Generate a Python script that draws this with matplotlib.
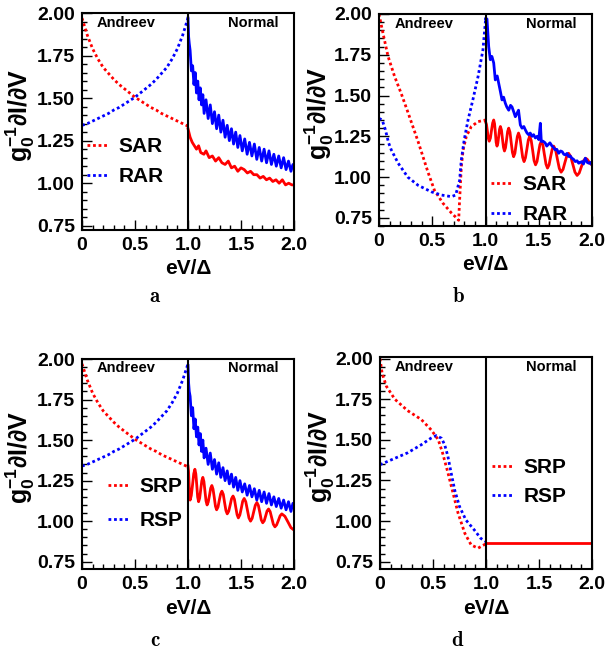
import matplotlib
matplotlib.use("Agg")
import matplotlib.pyplot as plt
from matplotlib.ticker import MultipleLocator, FixedLocator

plt.rcParams['font.family'] = ['Liberation Sans', 'DejaVu Sans']
plt.rcParams['font.weight'] = 'bold'
plt.rcParams['mathtext.fontset'] = 'custom'
plt.rcParams['mathtext.bf'] = 'Liberation Sans:bold'
plt.rcParams['mathtext.rm'] = 'Liberation Sans:bold'
plt.rcParams['mathtext.it'] = 'Liberation Sans:bold'
plt.rcParams['mathtext.default'] = 'bf'

# ---------------------------------------------------------------------------
# data (x = eV/Delta, y = g0^-1 dI/dV)
# ---------------------------------------------------------------------------
# panels a and c, Andreev region (dotted)
x_andreev = [0.00, 0.05, 0.10, 0.15, 0.20, 0.25, 0.30, 0.35, 0.40, 0.45, 0.50,
             0.55, 0.60, 0.65, 0.70, 0.75, 0.80, 0.85, 0.90, 0.95, 1.00]
red_ac_andreev = [1.97, 1.87, 1.79, 1.73, 1.68, 1.645, 1.61, 1.58, 1.555, 1.53, 1.505,
                  1.485, 1.465, 1.445, 1.43, 1.41, 1.395, 1.38, 1.365, 1.35, 1.335]
blue_ac_andreev = [1.34, 1.35, 1.365, 1.38, 1.395, 1.41, 1.43, 1.445, 1.465, 1.485, 1.505,
                   1.53, 1.555, 1.58, 1.61, 1.645, 1.68, 1.73, 1.79, 1.87, 1.97]

# panel a, normal region (solid)
x_red_a = [1.00, 1.02, 1.04, 1.06, 1.08, 1.10, 1.12, 1.15, 1.17, 1.20, 1.23, 1.26, 1.29,
           1.32, 1.35, 1.38, 1.41, 1.44, 1.47, 1.50, 1.53, 1.56, 1.59, 1.62, 1.65, 1.68,
           1.71, 1.74, 1.77, 1.80, 1.83, 1.86, 1.89, 1.92, 1.95, 1.98, 2.00]
y_red_a = [1.32, 1.27, 1.24, 1.22, 1.20, 1.22, 1.18, 1.17, 1.19, 1.15, 1.16, 1.13, 1.15,
           1.12, 1.11, 1.13, 1.09, 1.10, 1.07, 1.09, 1.08, 1.06, 1.07, 1.05, 1.05, 1.03,
           1.04, 1.02, 1.03, 1.01, 1.02, 1.00, 1.02, 0.99, 1.00, 0.99, 0.99]
x_blue_a = [1.000, 1.006, 1.012, 1.020, 1.032, 1.044, 1.056, 1.068, 1.080, 1.092, 1.104,
            1.116, 1.128, 1.140, 1.152, 1.170, 1.190, 1.210, 1.230, 1.250, 1.270, 1.290,
            1.310, 1.330, 1.350, 1.370, 1.390, 1.410, 1.430, 1.450, 1.470, 1.490, 1.512,
            1.535, 1.558, 1.580, 1.603, 1.626, 1.649, 1.672, 1.695, 1.718, 1.741, 1.764,
            1.787, 1.810, 1.833, 1.856, 1.879, 1.902, 1.925, 1.948, 1.971, 1.990, 2.000]
y_blue_a = [1.97, 1.86, 1.82, 1.78, 1.66, 1.69, 1.58, 1.65, 1.53, 1.60, 1.49,
            1.56, 1.46, 1.52, 1.41, 1.49, 1.38, 1.46, 1.35, 1.42, 1.32, 1.40,
            1.30, 1.37, 1.27, 1.34, 1.25, 1.32, 1.23, 1.30, 1.21, 1.28, 1.19,
            1.26, 1.17, 1.24, 1.16, 1.23, 1.14, 1.21, 1.13, 1.20, 1.12, 1.19,
            1.11, 1.17, 1.10, 1.16, 1.09, 1.15, 1.08, 1.13, 1.07, 1.11, 1.10]

# panel b, Andreev region (dotted)
x_red_b_andreev = [0.00, 0.038, 0.085, 0.147, 0.21, 0.27, 0.366, 0.46, 0.52, 0.60, 0.68,
                   0.735, 0.748, 0.757, 0.773, 0.79, 0.82, 0.867, 0.93, 1.00]
y_red_b_andreev = [2.00, 1.88, 1.74, 1.616, 1.51, 1.40, 1.22, 1.03, 0.92, 0.84, 0.78,
                   0.745, 0.735, 0.86, 1.064, 1.167, 1.25, 1.31, 1.34, 1.35]
x_blue_b_andreev = [0.00, 0.03, 0.06, 0.09, 0.115, 0.18, 0.27, 0.366, 0.49, 0.585, 0.68,
                    0.72, 0.757, 0.773, 0.80, 0.836, 0.88, 0.93, 0.976, 1.00]
y_blue_b_andreev = [1.36, 1.35, 1.29, 1.21, 1.167, 1.085, 1.00, 0.95, 0.91, 0.89, 0.88,
                    0.89, 0.98, 1.105, 1.228, 1.35, 1.47, 1.616, 1.78, 1.96]

# panel b, normal region (solid)
x_red_b = [1.000, 1.009, 1.018, 1.026, 1.035, 1.046, 1.056, 1.067, 1.077, 1.085, 1.093,
           1.100, 1.108, 1.116, 1.124, 1.132, 1.140, 1.150, 1.159, 1.169, 1.178, 1.188,
           1.198, 1.208, 1.218, 1.230, 1.241, 1.253, 1.264, 1.276, 1.287, 1.299, 1.310,
           1.323, 1.336, 1.349, 1.362, 1.375, 1.389, 1.402, 1.415, 1.429, 1.443, 1.456,
           1.470, 1.484, 1.497, 1.511, 1.524, 1.539, 1.553, 1.568, 1.582, 1.597, 1.611,
           1.626, 1.640, 1.658, 1.675, 1.693, 1.710, 1.728, 1.745, 1.763, 1.780, 1.800,
           1.820, 1.840, 1.860, 1.880, 1.900, 1.920, 1.940, 1.955, 1.970, 1.985, 2.000]
y_red_b = [1.340, 1.323, 1.280, 1.238, 1.220, 1.239, 1.285, 1.331, 1.350, 1.327, 1.270,
           1.213, 1.190, 1.208, 1.250, 1.293, 1.310, 1.288, 1.235, 1.182, 1.160, 1.180,
           1.230, 1.280, 1.300, 1.275, 1.213, 1.151, 1.125, 1.146, 1.198, 1.249, 1.270,
           1.245, 1.183, 1.121, 1.095, 1.118, 1.173, 1.227, 1.250, 1.225, 1.163, 1.101,
           1.075, 1.096, 1.148, 1.199, 1.220, 1.196, 1.138, 1.079, 1.055, 1.075, 1.123,
           1.170, 1.190, 1.167, 1.110, 1.053, 1.030, 1.047, 1.088, 1.129, 1.146, 1.126,
           1.078, 1.030, 1.010, 1.025, 1.063, 1.100, 1.115, 1.109, 1.095, 1.081, 1.075]
x_blue_b = [1.000, 1.014, 1.030, 1.045, 1.060, 1.077, 1.092, 1.110, 1.124, 1.140, 1.155,
            1.170, 1.186, 1.200, 1.218, 1.235, 1.249, 1.265, 1.280, 1.295, 1.310, 1.327,
            1.343, 1.360, 1.374, 1.390, 1.405, 1.420, 1.437, 1.452, 1.468, 1.485, 1.500,
            1.515, 1.524, 1.540, 1.560, 1.575, 1.590, 1.605, 1.625, 1.640, 1.655, 1.670,
            1.687, 1.705, 1.720, 1.735, 1.750, 1.765, 1.780, 1.795, 1.810, 1.825, 1.843,
            1.860, 1.875, 1.890, 1.906, 1.920, 1.937, 1.955, 1.970, 1.985, 2.000]
y_blue_b = [1.97, 1.97, 1.80, 1.72, 1.74, 1.70, 1.596, 1.62, 1.575, 1.524, 1.473,
            1.49, 1.453, 1.43, 1.41, 1.44, 1.43, 1.40, 1.37, 1.39, 1.41, 1.32,
            1.30, 1.31, 1.29, 1.27, 1.26, 1.27, 1.25, 1.26, 1.24, 1.25, 1.23,
            1.33, 1.218, 1.22, 1.21, 1.19, 1.20, 1.21, 1.19, 1.18, 1.167, 1.17,
            1.146, 1.16, 1.156, 1.14, 1.136, 1.145, 1.126, 1.13, 1.116, 1.11, 1.095,
            1.10, 1.085, 1.09, 1.095, 1.08, 1.116, 1.09, 1.085, 1.09, 1.075]

# panel c, normal region (solid)
x_red_c = [1.000, 1.005, 1.010, 1.015, 1.020, 1.031, 1.043, 1.054, 1.065, 1.074, 1.083,
           1.091, 1.100, 1.110, 1.120, 1.130, 1.140, 1.150, 1.160, 1.170, 1.180, 1.191,
           1.203, 1.214, 1.225, 1.236, 1.248, 1.259, 1.270, 1.283, 1.295, 1.308, 1.320,
           1.333, 1.345, 1.358, 1.370, 1.384, 1.398, 1.411, 1.425, 1.438, 1.450, 1.463,
           1.475, 1.489, 1.503, 1.516, 1.530, 1.545, 1.560, 1.575, 1.590, 1.605, 1.620,
           1.635, 1.650, 1.664, 1.678, 1.691, 1.705, 1.719, 1.733, 1.746, 1.760, 1.775,
           1.790, 1.805, 1.820, 1.836, 1.853, 1.869, 1.885, 1.914, 1.943, 1.971, 2.000]
y_red_c = [1.340, 1.309, 1.235, 1.161, 1.130, 1.158, 1.225, 1.292, 1.320, 1.291, 1.220,
           1.149, 1.120, 1.142, 1.195, 1.248, 1.270, 1.245, 1.185, 1.125, 1.100, 1.118,
           1.160, 1.203, 1.220, 1.198, 1.145, 1.092, 1.070, 1.087, 1.128, 1.168, 1.185,
           1.165, 1.115, 1.065, 1.045, 1.061, 1.100, 1.139, 1.155, 1.135, 1.088, 1.040,
           1.020, 1.038, 1.080, 1.123, 1.140, 1.120, 1.070, 1.020, 1.000, 1.017, 1.058,
           1.098, 1.115, 1.097, 1.053, 1.008, 0.990, 1.002, 1.033, 1.063, 1.075, 1.059,
           1.020, 0.981, 0.965, 0.977, 1.005, 1.033, 1.045, 1.030, 0.995, 0.960, 0.945]
x_blue_c = [1.000, 1.006, 1.012, 1.020, 1.032, 1.044, 1.056, 1.068, 1.080, 1.092, 1.104,
            1.116, 1.128, 1.140, 1.152, 1.170, 1.190, 1.210, 1.230, 1.250, 1.270, 1.290,
            1.310, 1.330, 1.350, 1.370, 1.390, 1.410, 1.430, 1.450, 1.470, 1.490, 1.512,
            1.535, 1.558, 1.580, 1.603, 1.626, 1.649, 1.672, 1.695, 1.718, 1.741, 1.764,
            1.787, 1.810, 1.833, 1.856, 1.879, 1.902, 1.925, 1.948, 1.971, 1.990, 2.000]
y_blue_c = [1.96, 1.85, 1.80, 1.77, 1.65, 1.70, 1.57, 1.63, 1.52, 1.58, 1.47,
            1.54, 1.43, 1.50, 1.39, 1.45, 1.35, 1.42, 1.32, 1.38, 1.29, 1.36,
            1.27, 1.33, 1.25, 1.31, 1.23, 1.29, 1.21, 1.27, 1.19, 1.25, 1.18,
            1.23, 1.16, 1.22, 1.15, 1.20, 1.13, 1.19, 1.12, 1.18, 1.11, 1.17,
            1.10, 1.15, 1.09, 1.14, 1.08, 1.13, 1.07, 1.12, 1.06, 1.11, 1.11]

# panel d
x_red_d_andreev = [0.00, 0.02, 0.06, 0.14, 0.26, 0.39, 0.485, 0.55, 0.59, 0.64, 0.69,
                   0.736, 0.80, 0.86, 0.925, 0.97, 1.00]
y_red_d_andreev = [2.00, 1.91, 1.83, 1.75, 1.68, 1.625, 1.56, 1.50, 1.42, 1.30, 1.17,
                   1.05, 0.925, 0.853, 0.833, 0.85, 0.86]
x_blue_d_andreev = [0.00, 0.11, 0.26, 0.39, 0.48, 0.53, 0.58, 0.61, 0.64, 0.67, 0.705,
                    0.75, 0.81, 0.89, 0.95, 1.00]
y_blue_d_andreev = [1.347, 1.378, 1.42, 1.47, 1.51, 1.526, 1.51, 1.47, 1.40, 1.30, 1.19,
                    1.09, 1.007, 0.945, 0.894, 0.873]
x_red_d = [1.0, 2.0]
y_red_d = [0.863, 0.863]

legend_ab = ['SAR', 'RAR']
legend_cd = ['SRP', 'RSP']
panel_tags = ['a', 'b', 'c', 'd']

RED = '#ff0000'
BLUE = '#0000ff'
DOT = (0, (1, 1))

fig = plt.figure(figsize=(6.16, 6.51), dpi=100)
W, H = 616.0, 651.0


def make_axes(left, top, right, bottom):
    return fig.add_axes([left / W, 1 - bottom / H, (right - left) / W, (bottom - top) / H])


def style(ax, ymin, ymax, ylab_xy):
    ax.set_xlim(0, 2.0)
    ax.set_ylim(ymin, ymax)
    ax.xaxis.set_major_locator(FixedLocator([0, 0.5, 1.0, 1.5, 2.0]))
    ax.xaxis.set_minor_locator(MultipleLocator(0.1))
    ax.set_xticklabels(['0', '0.5', '1.0', '1.5', '2.0'])
    ax.yaxis.set_major_locator(FixedLocator([0.75, 1.0, 1.25, 1.5, 1.75, 2.0]))
    ax.yaxis.set_minor_locator(MultipleLocator(0.05))
    ax.set_yticklabels(['0.75', '1.00', '1.25', '1.50', '1.75', '2.00'])
    ax.tick_params(which='both', direction='in', top=False, right=False,
                   labelsize=14, width=1.0)
    ax.tick_params(which='major', length=7, pad=5)
    ax.tick_params(which='minor', length=3.5)
    for s in ax.spines.values():
        s.set_linewidth(1.5)
    ax.axvline(1.0, color='black', lw=1.5)
    ax.text(0.21, 0.955, 'Andreev', transform=ax.transAxes, ha='center', va='center',
            fontsize=10.5, fontweight='bold')
    ax.text(0.81, 0.955, 'Normal', transform=ax.transAxes, ha='center', va='center',
            fontsize=10.5, fontweight='bold')
    ax.set_xlabel('eV/Δ', fontsize=15, fontweight='bold', labelpad=4)
    ax.set_ylabel(r'$g_0^{-1}$∂I/∂V', fontsize=18, fontweight='bold')
    ax.yaxis.set_label_coords(*ylab_xy)


def add_legend(ax, names, x0, y0, spacing):
    ax.legend(names, loc='upper left', bbox_to_anchor=(x0, y0), frameon=False,
              handlelength=1.0, handletextpad=0.5, borderpad=0,
              borderaxespad=0, labelspacing=spacing, prop={'weight': 'bold', 'size': 15})


# a
ax_a = make_axes(82, 13, 294, 230)
ax_a.plot(x_andreev, red_ac_andreev, color=RED, lw=2, ls=DOT)
ax_a.plot(x_andreev, blue_ac_andreev, color=BLUE, lw=2, ls=DOT)
ax_a.plot(x_red_a, y_red_a, color=RED, lw=2)
ax_a.plot(x_blue_a, y_blue_a, color=BLUE, lw=2)
style(ax_a, 0.725, 2.0, (-0.212, 0.53))
add_legend(ax_a, legend_ab, 0.024, 0.428, 0.53)

# b
ax_b = make_axes(379, 14, 592, 226)
ax_b.plot(x_red_b_andreev, y_red_b_andreev, color=RED, lw=2, ls=DOT)
ax_b.plot(x_blue_b_andreev, y_blue_b_andreev, color=BLUE, lw=2, ls=DOT)
ax_b.plot(x_red_b, y_red_b, color=RED, lw=2)
ax_b.plot(x_blue_b, y_blue_b, color=BLUE, lw=2)
style(ax_b, 0.70, 2.0, (-0.20, 0.53))
add_legend(ax_b, legend_ab, 0.526, 0.241, 0.53)

# c
ax_c = make_axes(82, 359, 294, 569)
ax_c.plot(x_andreev, red_ac_andreev, color=RED, lw=2, ls=DOT)
ax_c.plot(x_andreev, blue_ac_andreev, color=BLUE, lw=2, ls=DOT)
ax_c.plot(x_red_c, y_red_c, color=RED, lw=2)
ax_c.plot(x_blue_c, y_blue_c, color=BLUE, lw=2)
style(ax_c, 0.705, 2.0, (-0.212, 0.53))
add_legend(ax_c, legend_cd, 0.123, 0.438, 0.72)

# d
ax_d = make_axes(380, 357, 592, 569)
ax_d.plot(x_red_d_andreev, y_red_d_andreev, color=RED, lw=2, ls=DOT)
ax_d.plot(x_blue_d_andreev, y_blue_d_andreev, color=BLUE, lw=2, ls=DOT)
ax_d.plot(x_red_d, y_red_d, color=RED, lw=2)
style(ax_d, 0.705, 2.01, (-0.205, 0.53))
add_legend(ax_d, legend_cd, 0.528, 0.523, 0.48)

# panel tags
for tag, (px, py) in zip(panel_tags, [(155, 297), (458, 297), (155, 640), (458, 640)]):
    fig.text(px / W, 1 - py / H, r'$\mathbf{%s}$' % tag, math_fontfamily='cm',
             fontsize=15, ha='center', va='center')

fig.savefig('out.png', dpi=100)
print('saved out.png')
